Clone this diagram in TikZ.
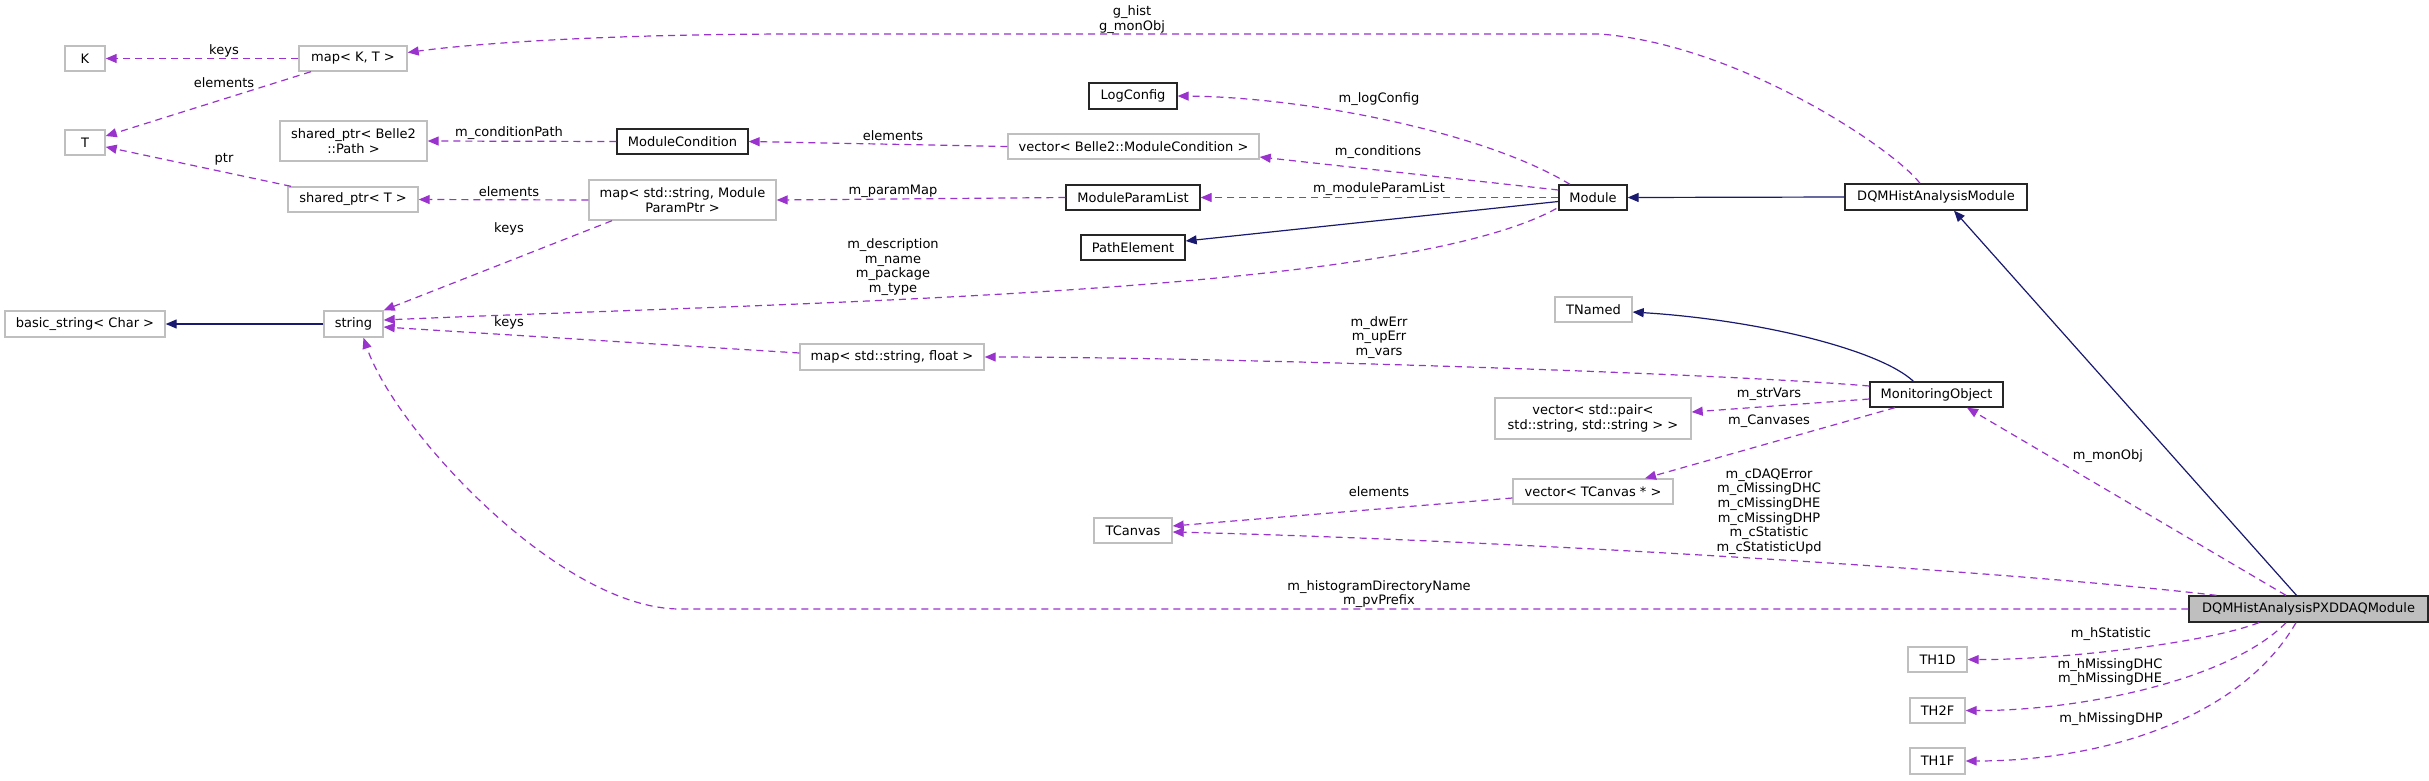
\documentclass[tikz,border=0pt]{standalone}
\usepackage{fontspec}
\setmainfont{DejaVu Sans}
\usetikzlibrary{arrows.meta}
\definecolor{purp}{HTML}{9A32CD}
\definecolor{navyb}{HTML}{191970}
\definecolor{grayb}{HTML}{BFBFBF}
\definecolor{fillg}{HTML}{BFBFBF}
\begin{document}
\begin{tikzpicture}[x=1pt,y=-1pt,
  every node/.style={font=\fontsize{13}{14.6}\selectfont},
  box/.style={draw=grayb, line width=1.4pt, fill=white, minimum height=25pt, inner sep=1pt, align=center},
  dbox/.style={box, draw=black!85, line width=1.3pt},
  lbl/.style={align=center, inner sep=0pt, text=black},
  dep/.style={draw=purp, line width=1.2pt, dash pattern=on 7pt off 5pt, -{Triangle[length=11pt,width=9pt]}},
  inh/.style={draw=navyb, line width=1.2pt, -{Triangle[length=11pt,width=9pt]}}]
\useasboundingbox (0,0) rectangle (2429,780);

% nodes
\node[box, minimum width=40pt] (K) at (85,58.5) {K};
\node[box, minimum width=108pt] (mapKT) at (353,58.5) {map< K, T >};
\node[box, minimum width=40pt] (T) at (85,142.5) {T};
\node[box, minimum width=147pt, minimum height=40pt] (sppath) at (353.5,141) {shared\_ptr< Belle2\\::Path >};
\node[dbox, minimum width=131pt] (modcond) at (682.5,141.5) {ModuleCondition};
\node[box, minimum width=130pt] (spT) at (353,199.5) {shared\_ptr< T >};
\node[box, minimum width=187pt, minimum height=40pt] (mapparam) at (682.5,200) {map< std::string, Module\\ParamPtr >};
\node[box, minimum width=160pt, minimum height=26pt] (basic) at (85,324) {basic\_string< Char >};
\node[box, minimum width=59pt, minimum height=26pt] (string) at (353.5,324) {string};
\node[dbox, minimum width=88pt, minimum height=26pt] (logc) at (1133,96) {LogConfig};
\node[box, minimum width=251pt] (vecmc) at (1133.5,146.5) {vector< Belle2::ModuleCondition >};
\node[dbox, minimum width=134pt] (mpl) at (1133,197.5) {ModuleParamList};
\node[dbox, minimum width=104pt] (pathel) at (1133,247.5) {PathElement};
\node[dbox, minimum width=68pt] (mod) at (1593,197.5) {Module};
\node[dbox, minimum width=182pt, minimum height=26pt] (dqm) at (1936,197) {DQMHistAnalysisModule};
\node[box, minimum width=77pt] (tnamed) at (1593.5,309.5) {TNamed};
\node[box, minimum width=184pt, minimum height=26pt] (mapsf) at (892,357) {map< std::string, float >};
\node[dbox, minimum width=133pt] (mo) at (1936.5,394.5) {MonitoringObject};
\node[box, minimum width=196pt, minimum height=41pt] (vecpair) at (1593,418.5) {vector< std::pair<\\ std::string, std::string > >};
\node[box, minimum width=160pt] (vectc) at (1593,491.5) {vector< TCanvas * >};
\node[box, minimum width=78pt] (tcanvas) at (1133,530.5) {TCanvas};
\node[dbox, fill=fillg, minimum width=239pt, minimum height=26pt] (pxd) at (2308.5,609) {DQMHistAnalysisPXDDAQModule};
\node[box, minimum width=59pt] (th1d) at (1937.5,659.5) {TH1D};
\node[box, minimum width=55pt] (th2f) at (1937.5,710.5) {TH2F};
\node[box, minimum width=55pt, minimum height=26pt] (th1f) at (1937.5,761) {TH1F};

% inheritance
\draw[inh] (string.west) -- (basic.east);
\draw[inh] ([yshift=-4pt]mod.west) -- ([yshift=6.5pt]pathel.east);
\draw[inh] (dqm.west) -- (mod.east);
\draw[inh] ([xshift=-23pt]mo.north) .. controls (1880,350) and (1760,320) .. ([yshift=-2.5pt]tnamed.east);
\draw[inh] ([xshift=-12pt]pxd.north) -- ([xshift=18pt]dqm.south);

% usage
\draw[dep] (mapKT.west) -- (K.east) node[lbl] at (224,51) {keys};
\draw[dep] (mapKT) -- (T) node[lbl] at (224,83) {elements};
\draw[dep] (spT) -- (T) node[lbl] at (224,159) {ptr};
\draw[dep] (modcond.west) -- (sppath.east) node[lbl] at (509,133) {m\_conditionPath};
\draw[dep] (vecmc.west) -- (modcond.east) node[lbl] at (893,136) {elements};
\draw[dep] ([yshift=7.5pt]mod.west) -- ([yshift=-10.5pt]vecmc.east) node[lbl] at (1378,152) {m\_conditions};
\draw[dep] ([xshift=-23pt]mod.north) .. controls (1480,130) and (1300,97) .. (logc.east) node[lbl] at (1379,99) {m\_logConfig};
\draw[dep] (mod.west) -- (mpl.east) node[lbl] at (1379,189) {m\_moduleParamList};
\draw[dep] (mpl.west) -- (mapparam.east) node[lbl] at (893,191) {m\_paramMap};
\draw[dep] (mapparam.west) -- (spT.east) node[lbl] at (509,192) {elements};
\draw[dep] ([xshift=-70.5pt]mapparam.south) -- (string.north east) node[lbl] at (509,229) {keys};
\draw[dep] ([xshift=-2pt,yshift=-11pt]mod.west) .. controls (1400,295) and (800,302) .. ([yshift=4pt]string.east)
  node[lbl] at (893,267) {m\_description\\m\_name\\m\_package\\m\_type};
\draw[dep] ([yshift=4pt]mapsf.west) -- ([yshift=-3pt]string.east) node[lbl] at (509,323) {keys};
\draw[dep] ([xshift=-16pt]dqm.north) .. controls (1895,150) and (1740,45) .. (1600,34) -- (800,34)
  .. controls (600,34) and (470,44) .. ([yshift=6pt]mapKT.east) node[lbl] at (1132,19.5) {g\_hist\\g\_monObj};
\draw[dep] ([yshift=8.5pt]mo.west) .. controls (1700,372) and (1200,357) .. (mapsf.east)
  node[lbl] at (1379,337.5) {m\_dwErr\\m\_upErr\\m\_vars};
\draw[dep] ([yshift=-4.5pt]mo.west) -- ([yshift=6.5pt]vecpair.east) node[lbl] at (1769,394) {m\_strVars};
\draw[dep] ([xshift=-41.5pt]mo.south) -- ([xshift=52pt]vectc.north) node[lbl] at (1769,421) {m\_Canvases};
\draw[dep] ([yshift=-6.5pt]vectc.west) -- ([yshift=4.5pt]tcanvas.east) node[lbl] at (1379,492) {elements};
\draw[dep] ([xshift=-92pt]pxd.north) .. controls (2000,570) and (1500,540) .. ([yshift=-1.5pt]tcanvas.east)
  node[lbl] at (1769,511.5) {m\_cDAQError\\m\_cMissingDHC\\m\_cMissingDHE\\m\_cMissingDHP\\m\_cStatistic\\m\_cStatisticUpd};
\draw[dep] (pxd.west) -- (680,609) .. controls (560,609) and (395,430) .. ([xshift=10pt]string.south)
  node[lbl] at (1379,594) {m\_histogramDirectoryName\\m\_pvPrefix};
\draw[dep] ([xshift=-22.5pt]pxd.north) -- ([xshift=30.5pt]mo.south) node[lbl] at (2108,456) {m\_monObj};
\draw[dep] ([xshift=-49.5pt]pxd.south) .. controls (2200,645) and (2050,660) .. (th1d.east) node[lbl] at (2111,634) {m\_hStatistic};
\draw[dep] ([xshift=-22.5pt]pxd.south) .. controls (2230,680) and (2080,711) .. (th2f.east) node[lbl] at (2110,672) {m\_hMissingDHC\\m\_hMissingDHE};
\draw[dep] ([xshift=-12.5pt]pxd.south) .. controls (2240,720) and (2100,761) .. (th1f.east) node[lbl] at (2111,719) {m\_hMissingDHP};
\end{tikzpicture}
\end{document}
